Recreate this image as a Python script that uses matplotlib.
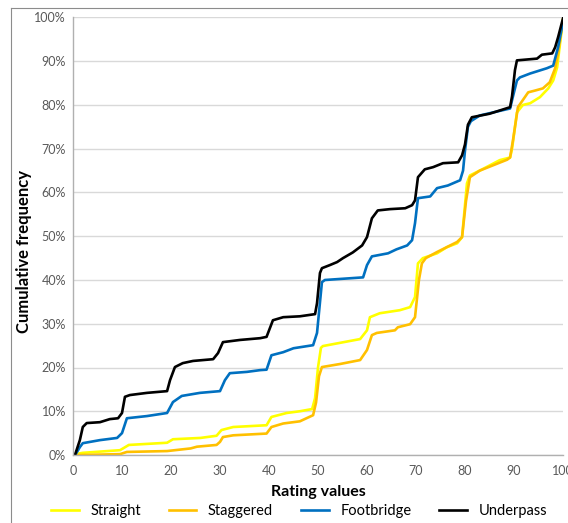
import matplotlib.pyplot as plt
from matplotlib.lines import Line2D
from matplotlib.ticker import PercentFormatter

plt.rcParams['font.family'] = ['Lato', 'DejaVu Sans']

# cumulative frequency curves (rating value, percent)
straight_x = [0, 1, 2, 9.6, 10.2, 11.4, 19.2, 20.4, 26, 29.3, 30.3, 32.7, 39.5, 40.5, 43.6, 46.3,
              48.8, 49.4, 50, 50.6, 51, 58.6, 60, 60.6, 62.6, 66.7, 68.8, 69.8, 70.4, 71.4, 74.3,
              76.3, 78.4, 79.4, 80.4, 81, 83, 87.1, 89.2, 89.6, 90.6, 91.8, 93.3, 95.3, 97, 98,
              98.8, 100]
straight_y = [0, 0.3, 0.5, 1.1, 1.5, 2.3, 2.8, 3.6, 3.9, 4.4, 5.7, 6.4, 6.8, 8.7, 9.6, 10,
              10.5, 13, 20, 24.5, 24.9, 26.5, 28.5, 31.5, 32.4, 33.1, 33.8, 36.1, 43.8, 45, 46.1,
              47.5, 48.4, 49.8, 62.1, 63.9, 65, 67.4, 68, 70, 78.3, 80, 80.4, 81.8, 83.8, 85.6,
              88.6, 99.5]

staggered_x = [0, 1.5, 9.6, 11, 19.2, 24, 25.3, 29.3, 30, 30.6, 32.7, 39.5, 40.5, 42.9, 46.3, 49,
               49.6, 50.2, 50.8, 54.5, 58.6, 60, 61, 62, 65.7, 66.3, 68.8, 69.8, 70.6, 71.2, 72,
               74.3, 78.4, 79.4, 80.2, 81, 83, 88.6, 89.2, 89.8, 90.8, 92.9, 94.3, 95.9, 97.3,
               98.4, 99, 100]
staggered_y = [0, 0, 0.2, 0.7, 0.9, 1.5, 1.9, 2.3, 3, 4.1, 4.5, 4.9, 6.4, 7.2, 7.7, 9.1,
               12, 18, 20.1, 20.8, 21.7, 24, 27.4, 27.9, 28.5, 29.2, 29.9, 31.5, 40, 43.8, 45,
               46.4, 48.7, 49.8, 58, 63.5, 65, 67.5, 68, 72, 79.5, 82.9, 83.3, 83.8, 85.2,
               88.4, 91.8, 99.5]

footbridge_x = [0, 0.6, 1.4, 2, 5.5, 9, 10, 11, 15.1, 19.2, 20.4, 22.2, 25.9, 30, 31, 32, 35.5,
                38.2, 39.5, 40.5, 42.9, 45, 49, 49.8, 50.8, 51.4, 59.2, 60, 61, 64.3, 66, 68.2,
                69.2, 69.8, 70.4, 72.9, 74.3, 76.5, 79, 79.6, 80, 80.6, 81.2, 83, 89.2, 89.8,
                90.6, 91.2, 93.3, 96.7, 98, 99, 100]
footbridge_y = [0, 0.3, 1.8, 2.7, 3.4, 3.9, 5, 8.4, 8.9, 9.6, 12.1, 13.5, 14.2, 14.6, 17.1, 18.7, 19,
                19.4, 19.5, 22.8, 23.5, 24.4, 25.1, 27.9, 39.5, 40, 40.6, 43.4, 45.4, 46.1, 47, 47.9,
                49.1, 53, 58.7, 59.1, 61, 61.6, 62.8, 65, 69.6, 75, 76.3, 77.6, 79.2, 82,
                85.6, 86.3, 87.2, 88.4, 89, 93.2, 99]

underpass_x = [0, 0.4, 1.4, 2, 2.8, 5.5, 7.5, 9.2, 10, 10.6, 11.6, 15.1, 19.2, 19.8, 20.8, 22.4,
               24.5, 28.6, 29.6, 30.6, 34.1, 38.2, 39.5, 40.8, 42.9, 46.3, 49.4, 49.8, 50.4, 50.8,
               52.4, 53.9, 55.1, 57.1, 59, 60, 61, 62.2, 64.7, 67.8, 69.2, 69.8, 70.4, 71.8, 73.5,
               75.5, 78.6, 79.4, 80, 80.6, 81.4, 85, 89.2, 89.6, 90.2, 90.6, 94.7, 95.7, 97.8,
               98.4, 99, 100]
underpass_y = [0, 0, 3.4, 6.4, 7.3, 7.5, 8.2, 8.4, 9.6, 13.3, 13.7, 14.2, 14.6, 17.1, 20.1, 21,
               21.5, 21.9, 23.3, 25.8, 26.3, 26.7, 27, 30.8, 31.5, 31.7, 32.2, 34.7, 41.6, 42.7,
               43.4, 44.1, 45, 46.3, 47.9, 49.8, 54.1, 55.9, 56.2, 56.4, 57.1, 58.2, 63.5, 65.3, 65.8,
               66.7, 66.9, 68.5, 71, 75.5, 77.2, 78, 79.5, 82, 88, 90.2, 90.6, 91.5, 91.8,
               93.2, 95.5, 99.8]

series = [
    ('Straight', straight_x, straight_y, '#FFFF00'),
    ('Staggered', staggered_x, staggered_y, '#FFC000'),
    ('Footbridge', footbridge_x, footbridge_y, '#0070C0'),
    ('Underpass', underpass_x, underpass_y, '#000000'),
]

fig = plt.figure(figsize=(5.68, 5.23), dpi=100)
ax = fig.add_axes([73 / 568, 68 / 523, 490 / 568, 437.5 / 523])

for name, xs, ys, col in series:
    ax.plot(xs, ys, color=col, lw=1.9, label=name, solid_joinstyle='round')

ax.set_xlim(0, 100)
ax.set_ylim(0, 100)
ax.set_xticks(range(0, 101, 10))
ax.set_yticks(range(0, 101, 10))
ax.yaxis.set_major_formatter(PercentFormatter(decimals=0))
ax.tick_params(length=0, labelsize=9, colors='#595959', pad=5)
ax.tick_params(axis='x', pad=7)
ax.grid(axis='y', color='#d9d9d9', lw=1)
ax.set_axisbelow(True)
for s in ['top', 'right']:
    ax.spines[s].set_visible(False)
for s in ['left', 'bottom']:
    ax.spines[s].set_color('#b0b0b0')
    ax.spines[s].set_linewidth(1)

ax.set_xlabel('Rating values', fontsize=11.5, fontweight='bold')
ax.set_ylabel('Cumulative frequency', fontsize=12, fontweight='bold')
ax.xaxis.set_label_coords(0.5, -0.068)
ax.yaxis.set_label_coords(-0.083, 0.466)

fig.legend(loc='center', bbox_to_anchor=(299 / 568, 12 / 523), ncol=4, frameon=False,
           fontsize=10.5, handlelength=1.9, handletextpad=0.8, columnspacing=1.9)

# chart frame (left and top edges visible)
fig.add_artist(Line2D([10.5 / 568, 10.5 / 568], [0, 1 - 7.5 / 523], color='#8c8c8c', lw=0.8))
fig.add_artist(Line2D([10.5 / 568, 1], [1 - 7.5 / 523, 1 - 7.5 / 523], color='#8c8c8c', lw=0.8))

fig.savefig('out.png', dpi=100)
